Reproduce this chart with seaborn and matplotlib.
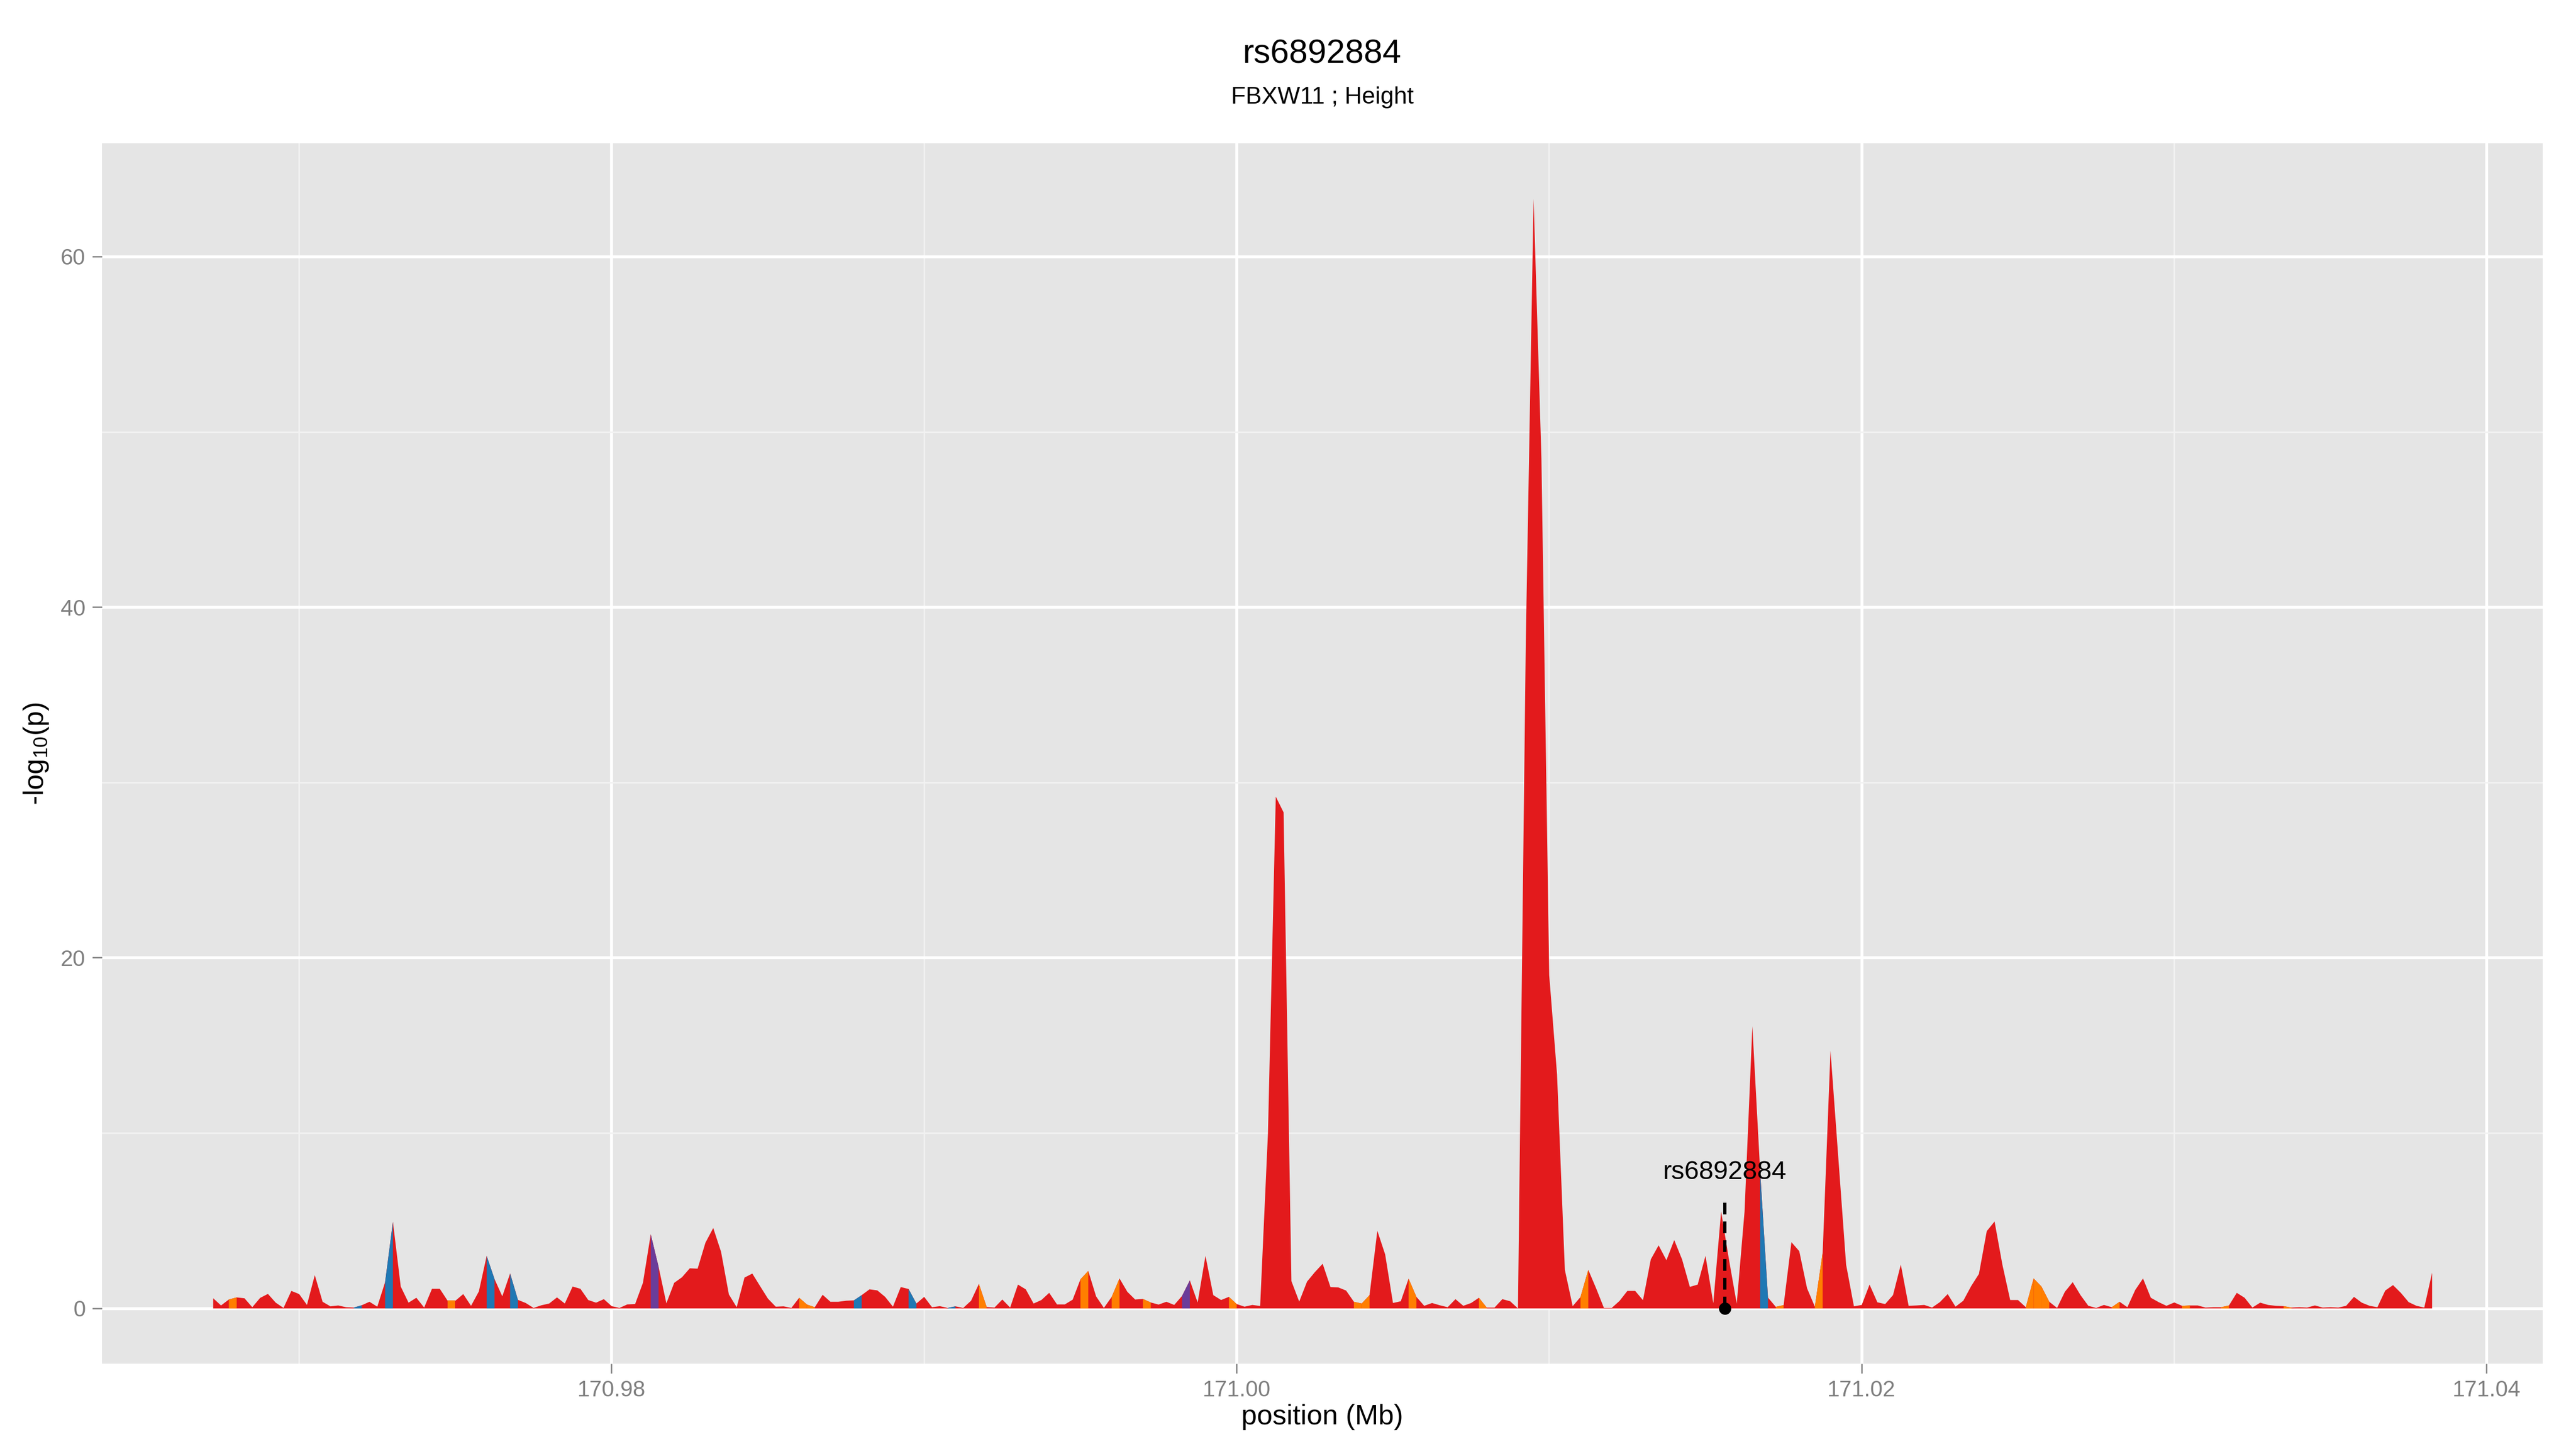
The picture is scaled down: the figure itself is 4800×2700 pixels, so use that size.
import numpy as np
import pandas as pd
import matplotlib
matplotlib.use("Agg")
import matplotlib.pyplot as plt
import seaborn as sns

# ---------------- data ----------------
title = "rs6892884"
subtitle = "FBXW11 ; Height"
xlabel = "position (Mb)"
ylabel = r"-log$_{\mathregular{10}}$(p)"

# SNPs lie on a regular 250 bp grid
grid_start_mb = 170.96725
grid_step_mb = 0.00025

logp = [
    0.58, 0.17, 0.51, 0.63, 0.58, 0.07, 0.60, 0.83, 0.33, 0.03,
    1.00, 0.82, 0.20, 1.90, 0.38, 0.12, 0.17, 0.07, 0.05, 0.18,
    0.38, 0.10, 1.50, 4.94, 1.25, 0.33, 0.61, 0.05, 1.12, 1.12,
    0.44, 0.44, 0.82, 0.15, 0.97, 3.00, 1.68, 0.69, 2.00, 0.49,
    0.31, 0.03, 0.18, 0.28, 0.63, 0.28, 1.25, 1.12, 0.48, 0.33,
    0.53, 0.13, 0.03, 0.23, 0.25, 1.46, 4.23, 2.38, 0.29, 1.46,
    1.78, 2.29, 2.27, 3.75, 4.59, 3.23, 0.80, 0.07, 1.76, 1.99,
    1.27, 0.56, 0.10, 0.12, 0.03, 0.61, 0.22, 0.07, 0.78, 0.38,
    0.38, 0.44, 0.46, 0.76, 1.09, 1.03, 0.66, 0.10, 1.22, 1.11,
    0.28, 0.66, 0.07, 0.13, 0.03, 0.12, 0.03, 0.44, 1.40, 0.08,
    0.05, 0.51, 0.05, 1.36, 1.09, 0.28, 0.48, 0.89, 0.23, 0.23,
    0.50, 1.66, 2.14, 0.69, 0.03, 0.66, 1.71, 0.95, 0.51, 0.54,
    0.34, 0.22, 0.38, 0.20, 0.71, 1.60, 0.34, 3.00, 0.76, 0.48,
    0.66, 0.25, 0.10, 0.20, 0.14, 10.0, 29.2, 28.3, 1.56, 0.39,
    1.53, 2.07, 2.55, 1.22, 1.20, 1.02, 0.38, 0.28, 0.76, 4.43,
    3.08, 0.31, 0.41, 1.70, 0.66, 0.15, 0.31, 0.18, 0.07, 0.53,
    0.15, 0.31, 0.61, 0.05, 0.05, 0.53, 0.41, 0.00, 38.0, 63.3,
    48.5, 19.0, 13.35, 2.20, 0.13, 0.65, 2.20, 1.15, 0.03, 0.03,
    0.43, 1.00, 1.00, 0.47, 2.80, 3.60, 2.75, 3.90, 2.80, 1.23,
    1.36, 3.00, 0.30, 5.53, 2.80, 0.27, 5.53, 16.1, 7.80, 0.62,
    0.09, 0.19, 3.78, 3.27, 1.15, 0.10, 3.19, 14.7, 8.60, 2.49,
    0.12, 0.20, 1.36, 0.35, 0.25, 0.76, 2.50, 0.15, 0.17, 0.20,
    0.05, 0.36, 0.82, 0.10, 0.44, 1.27, 1.97, 4.41, 4.96, 2.50,
    0.48, 0.48, 0.07, 1.71, 1.25, 0.38, 0.03, 0.95, 1.50, 0.76,
    0.15, 0.03, 0.20, 0.07, 0.38, 0.07, 1.05, 1.71, 0.61, 0.36,
    0.15, 0.34, 0.15, 0.17, 0.17, 0.05, 0.07, 0.07, 0.17, 0.89,
    0.61, 0.05, 0.33, 0.20, 0.15, 0.13, 0.05, 0.07, 0.05, 0.17,
    0.05, 0.07, 0.05, 0.15, 0.66, 0.33, 0.15, 0.07, 1.02, 1.33,
    0.89, 0.36, 0.15, 0.05, 2.04,
]

# intervals (starting SNP index) whose fill is not in the default LD colour
orange_segments = [2, 30, 75, 76, 98, 111, 115, 119, 130, 146, 147, 153, 162,
                   175, 200, 205, 232, 233, 234, 243, 252, 257, 265]
blue_segments = [18, 22, 35, 38, 82, 89, 94, 198]
purple_segments = [56, 124]

snp_name = "rs6892884"
snp_pos_mb = 171.01562
snp_line_top = 6.27
snp_label_y = 7.37

x_major = [170.98, 171.00, 171.02, 171.04]
x_major_labels = ["170.98", "171.00", "171.02", "171.04"]
x_minor = [170.97, 170.99, 171.01, 171.03]
y_major = [0, 20, 40, 60]
y_major_labels = ["0", "20", "40", "60"]
y_minor = [10, 30, 50]

# ---------------- style ----------------
RED = "#E31A1C"
ORANGE = "#FF7F00"
BLUE = "#1F78B4"
PURPLE = "#6A3D9A"
PANEL = "#E5E5E5"
TICKGREY = "#7F7F7F"

sns.set_theme(style="darkgrid", rc={"axes.facecolor": PANEL, "grid.color": "white"})
plt.rcParams["font.family"] = ["Liberation Sans", "DejaVu Sans"]
plt.rcParams["mathtext.fontset"] = "custom"
plt.rcParams["mathtext.rm"] = "Liberation Sans"
plt.rcParams["mathtext.it"] = "Liberation Sans:italic"
plt.rcParams["mathtext.bf"] = "Liberation Sans:bold"

df = pd.DataFrame({"pos": grid_start_mb + grid_step_mb * np.arange(len(logp)),
                   "logp": logp})

fig = plt.figure(figsize=(16, 9), dpi=300)
fig.patch.set_facecolor("white")
ax = fig.add_axes([0.0396, 0.0589, 0.9475, 0.8423])
ax.set_facecolor(PANEL)

# base area
ax.fill_between(df["pos"], df["logp"], 0, color=RED, linewidth=0, zorder=2)
# coloured intervals on top
for segs, col in ((orange_segments, ORANGE), (blue_segments, BLUE), (purple_segments, PURPLE)):
    for i in segs:
        sub = df.iloc[i:i + 2]
        ax.fill_between(sub["pos"], sub["logp"], 0, color=col, linewidth=0, zorder=3)

# index SNP marker
ax.plot([snp_pos_mb, snp_pos_mb], [0, snp_line_top], color="black", lw=1.45,
        linestyle=(0, (3.6, 2.2)), zorder=5, solid_capstyle="butt", dash_capstyle="butt")
sns.scatterplot(x=[snp_pos_mb], y=[0], color="black", s=30, linewidth=0, ax=ax, zorder=6)
ax.text(snp_pos_mb, snp_label_y, snp_name, ha="center", va="baseline",
        fontsize=11.7, color="black", zorder=7)

# axes limits (ggplot-like 5% expansion)
xmin, xmax = df["pos"].min(), df["pos"].max()
xr = xmax - xmin
ax.set_xlim(xmin - 0.05 * xr, xmax + 0.05 * xr)
ymax = max(logp)
ax.set_ylim(-0.05 * ymax, ymax * 1.05)

ax.set_xticks(x_major)
ax.set_xticklabels(x_major_labels)
ax.set_xticks(x_minor, minor=True)
ax.set_yticks(y_major)
ax.set_yticklabels(y_major_labels)
ax.set_yticks(y_minor, minor=True)

ax.grid(which="major", color="white", linewidth=1.3, zorder=0)
ax.grid(which="minor", color="#F2F2F2", linewidth=0.65, zorder=0)
ax.set_axisbelow(True)
for s in ax.spines.values():
    s.set_visible(False)

ax.tick_params(axis="both", which="major", length=4.3, width=0.6, color=TICKGREY,
               labelcolor=TICKGREY, labelsize=10, pad=3, bottom=True, left=True)
ax.tick_params(axis="both", which="minor", length=0, bottom=False, left=False)

ax.set_xlabel(xlabel, fontsize=12.5, color="black")
ax.xaxis.label.set_verticalalignment("baseline")
ax.xaxis.set_label_coords(0.5, (2541.7 - 2655) / 2275.0)
ax.set_ylabel(ylabel, fontsize=12.5, color="black", rotation=90)
ax.yaxis.label.set_verticalalignment("center")
ax.yaxis.label.set_horizontalalignment("center")
ax.yaxis.set_label_coords((67 - 190) / 4548.0, 0.5)

cx = 0.0396 + 0.9475 / 2
fig.text(cx, 1 - 117.3 / 2700, title, ha="center", va="baseline", fontsize=15, color="black")
fig.text(cx, 1 - 192.7 / 2700, subtitle, ha="center", va="baseline", fontsize=10.7, color="black")

fig.savefig("out.png", dpi=300, facecolor="white")
